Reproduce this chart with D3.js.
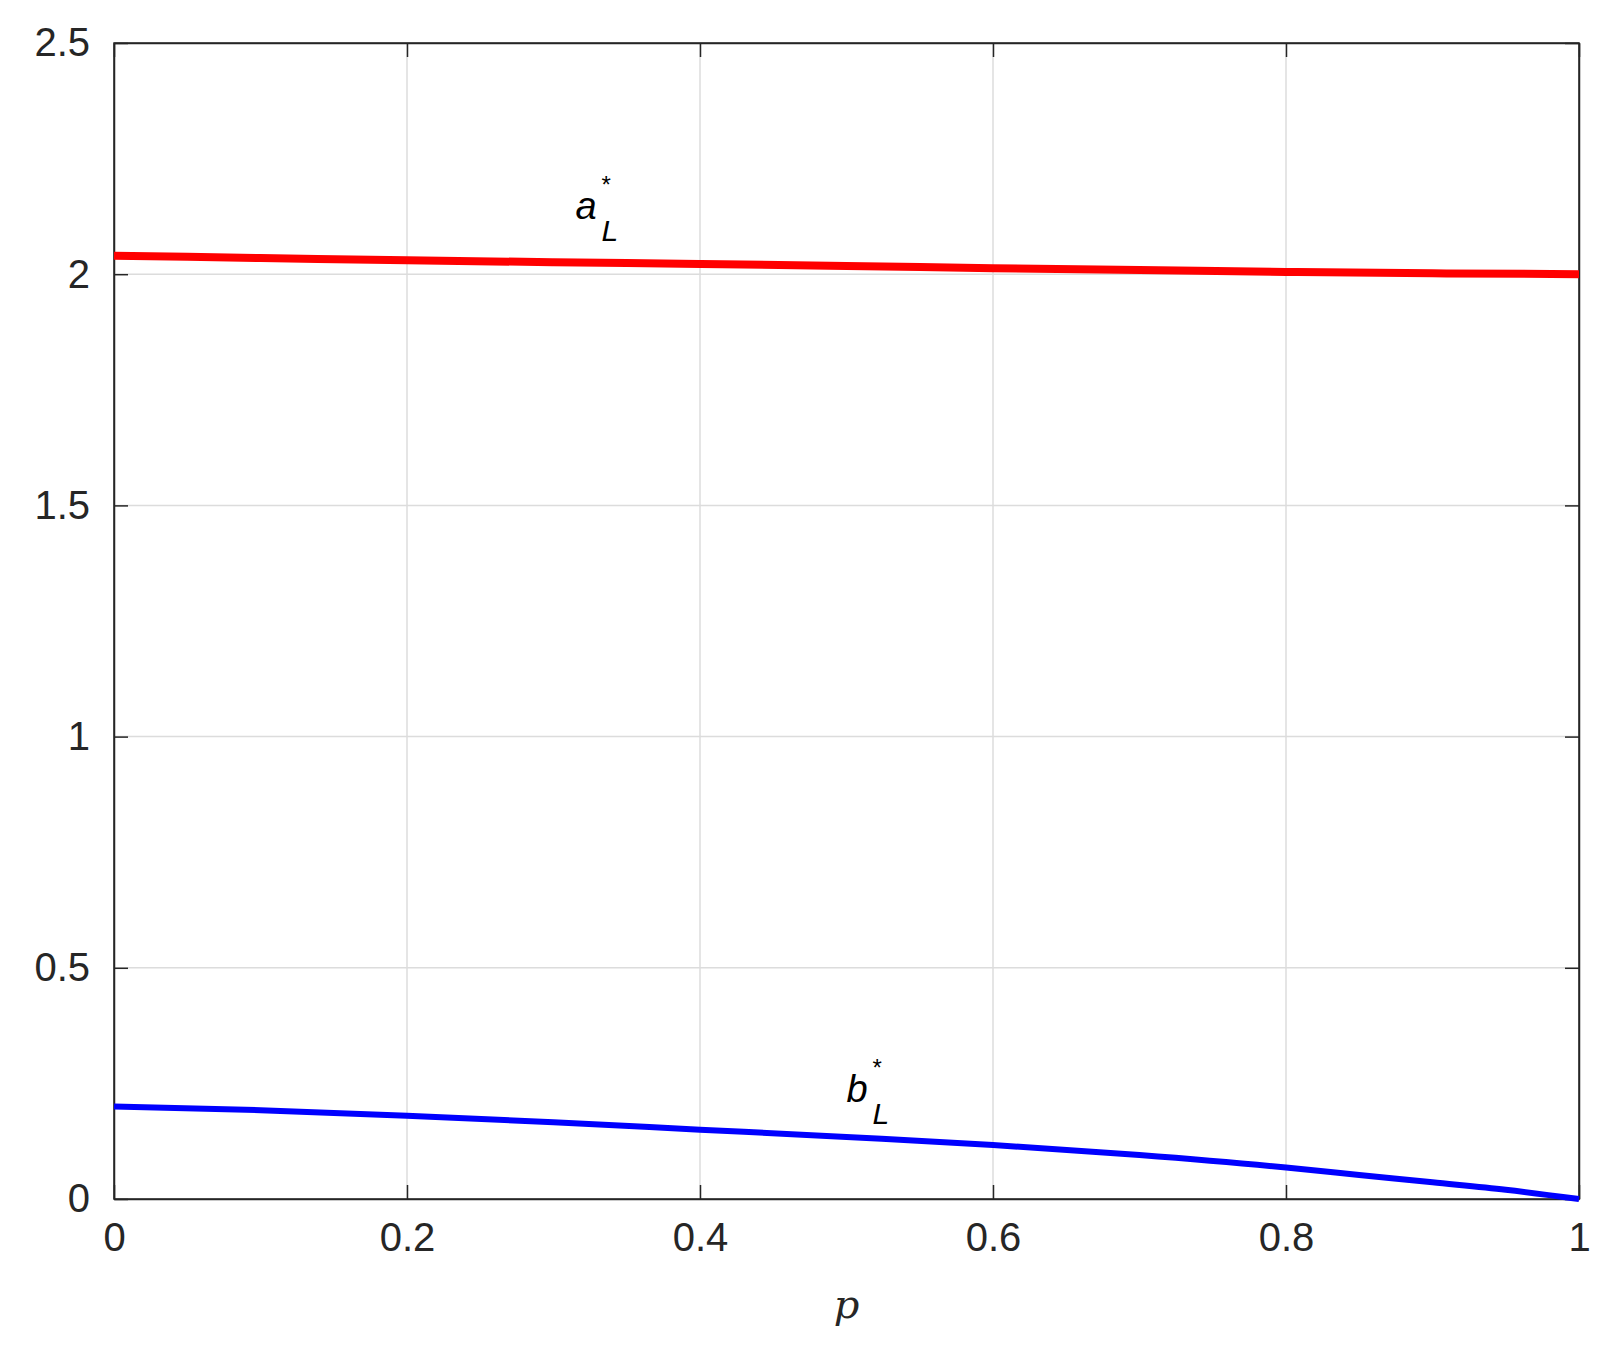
<!DOCTYPE html><html><head><meta charset="utf-8"><script src="https://cdn.jsdelivr.net/npm/d3@7"></script>
<style>body{margin:0;background:#fff}</style></head><body><svg id="c" width="1624" height="1358"></svg>
<script>
const pA=[0,0.1,0.2,0.3,0.4,0.5,0.6,0.7,0.8,0.9,1];
const aL=[2.04,2.035,2.03,2.026,2.022,2.018,2.013,2.009,2.005,2.002,2.0];
const pB=[0,0.1,0.2,0.3,0.4,0.5,0.6,0.7,0.8,0.85,0.9,0.95,1];
const bL=[0.2,0.192,0.18,0.166,0.15,0.134,0.117,0.095,0.068,0.052,0.036,0.02,0.0];
const xTicks=[0,0.2,0.4,0.6,0.8,1], yTicks=[0,0.5,1,1.5,2,2.5];
const svg=d3.select("#c");
const L=114,R=1579,T=43,B=1199;
const x=d3.scaleLinear().domain([0,1]).range([L,R]);
const y=d3.scaleLinear().domain([0,2.5]).range([B,T]);
const g=svg.append("g");
g.selectAll(".gx").data(xTicks).join("line").attr("x1",d=>x(d)).attr("x2",d=>x(d)).attr("y1",T).attr("y2",B).attr("stroke","#dcdcdc").attr("stroke-width",1.5);
g.selectAll(".gy").data(yTicks).join("line").attr("y1",d=>y(d)).attr("y2",d=>y(d)).attr("x1",L).attr("x2",R).attr("stroke","#dcdcdc").attr("stroke-width",1.5);
const font="'Liberation Sans',Arial,sans-serif";
svg.append("g").attr("transform",`translate(0,${B})`).call(d3.axisBottom(x).tickValues(xTicks).tickFormat(d3.format("")).tickSizeInner(-14).tickSizeOuter(0).tickPadding(24));
svg.append("g").attr("transform",`translate(${L},0)`).call(d3.axisLeft(y).tickValues(yTicks).tickFormat(d3.format("")).tickSizeInner(-14).tickSizeOuter(0).tickPadding(24));
svg.append("g").attr("transform",`translate(0,${T})`).call(d3.axisTop(x).tickValues(xTicks).tickFormat("").tickSizeInner(-14).tickSizeOuter(0));
svg.append("g").attr("transform",`translate(${R},0)`).call(d3.axisRight(y).tickValues(yTicks).tickFormat("").tickSizeInner(-14).tickSizeOuter(0));
svg.selectAll(".tick text").attr("font-family",font).attr("font-size",40).attr("fill","#262626");
svg.selectAll(".domain,.tick line").attr("stroke","#262626").attr("stroke-width",1.5);
svg.append("rect").attr("x",L).attr("y",T).attr("width",R-L).attr("height",B-T).attr("fill","none").attr("stroke","#262626").attr("stroke-width",1.5);
const line=d3.line().curve(d3.curveMonotoneX);
svg.append("path").attr("d",line(pA.map((p,i)=>[x(p),y(aL[i])]))).attr("fill","none").attr("stroke","#ff0000").attr("stroke-width",8);
svg.append("path").attr("d",line(pB.map((p,i)=>[x(p),y(bL[i])]))).attr("fill","none").attr("stroke","#0000ff").attr("stroke-width",6);
function lab(px,py,base){
  const bx=x(px), by=y(py);
  svg.append("text").attr("x",bx).attr("y",by).attr("font-family",font).attr("font-style","italic").attr("font-size",38).text(base);
  svg.append("text").attr("x",bx+26).attr("y",by-26).attr("font-family",font).attr("font-size",24).text("*");
  svg.append("text").attr("x",bx+26).attr("y",by+22).attr("font-family",font).attr("font-style","italic").attr("font-size",30).text("L");
}
lab(0.315,2.12,"a");lab(0.5,0.21,"b");
svg.append("text").attr("x",x(0.5)).attr("y",1318).attr("text-anchor","middle").attr("font-family","'DejaVu Serif',serif").attr("font-style","italic").attr("font-size",40).attr("fill","#262626").text("p");
</script></body></html>
